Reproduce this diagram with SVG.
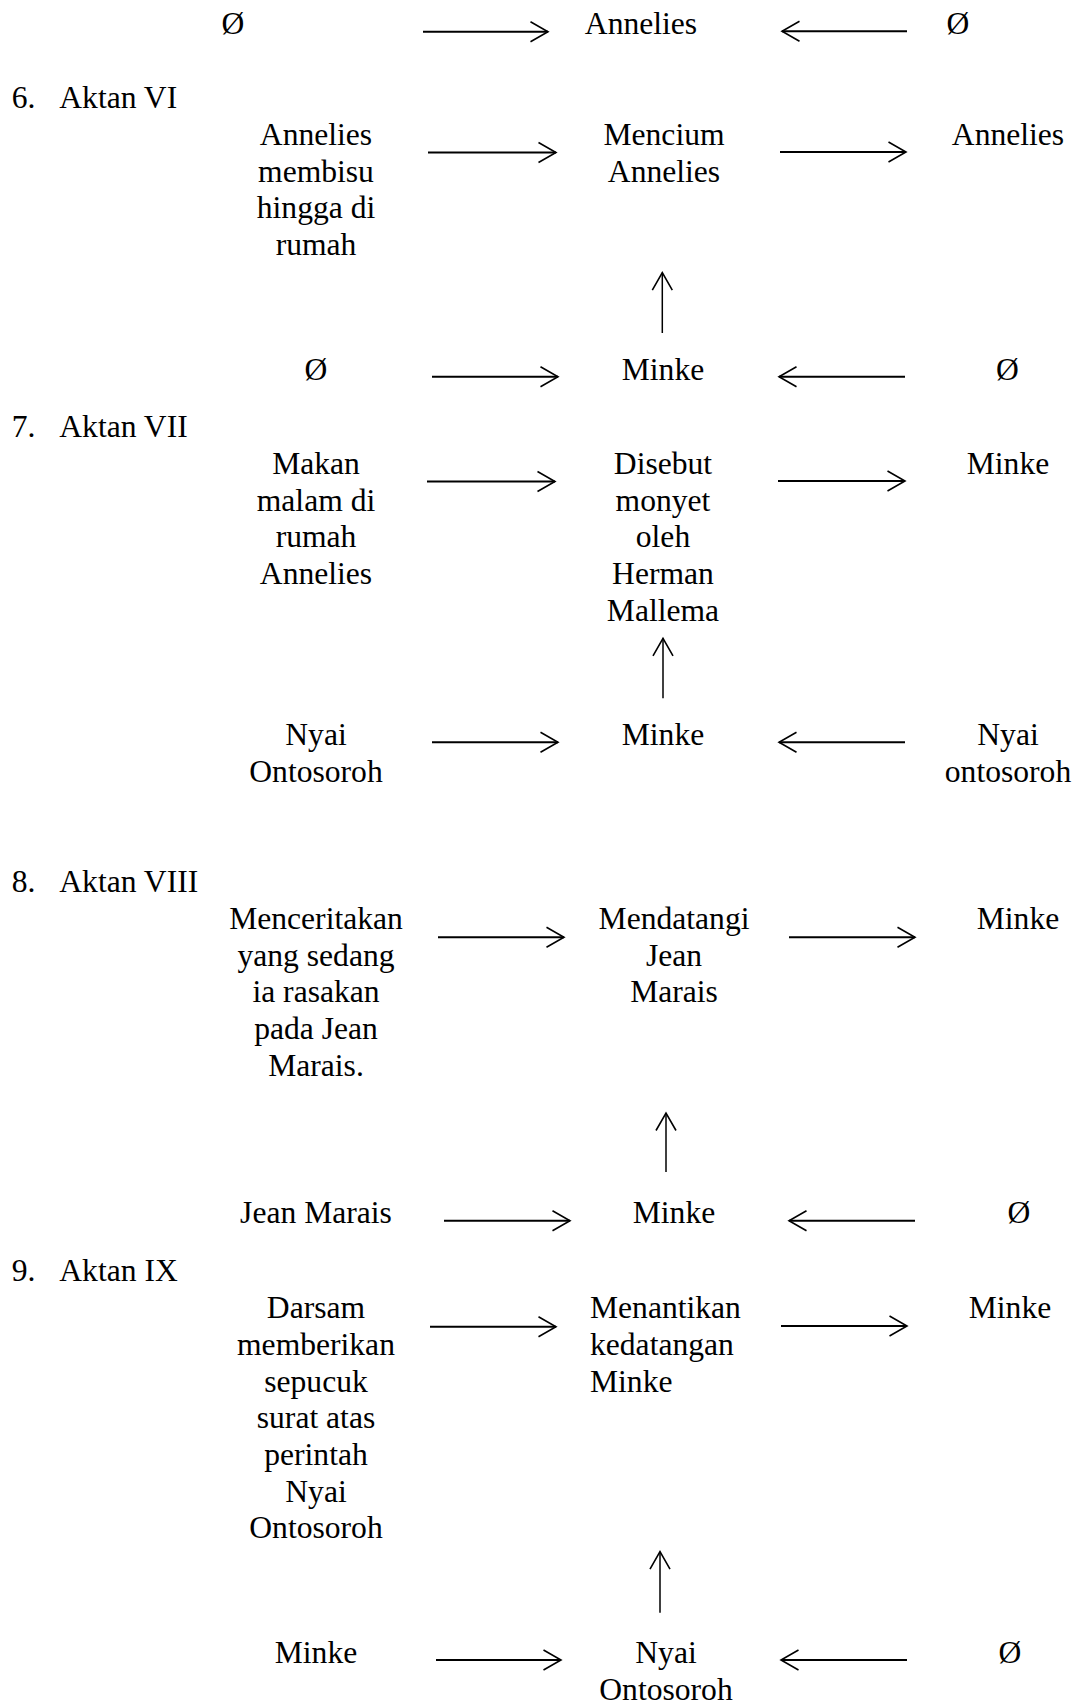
<svg xmlns="http://www.w3.org/2000/svg" width="1076" height="1704" viewBox="0 0 1076 1704">
<style>
text{font-family:"Liberation Serif","Times New Roman",serif;font-size:31.6px;fill:#000}
.c{text-anchor:middle}
.h{stroke:#000;stroke-width:2;fill:none}
.v{stroke:#000;stroke-width:1.5;fill:none}
</style>
<defs>
<marker id="ah" viewBox="-20 -12 22 24" refX="0" refY="0" markerWidth="22" markerHeight="24" markerUnits="userSpaceOnUse" orient="auto">
<path d="M-17.5,-10 L0,0 L-17.5,10" fill="none" stroke="#000" stroke-width="1.6"/>
</marker>
</defs>
<rect width="1076" height="1704" fill="#fff"/>

<!-- Row 0 (continued from previous) -->
<g id="r0-left"><text class="c" x="233" y="34.3">Ø</text></g>
<g id="r0-mid"><text class="c" x="641" y="34.3">Annelies</text></g>
<g id="r0-right"><text class="c" x="958" y="34.3">Ø</text></g>

<!-- Aktan VI -->
<g id="label6"><text x="11.7" y="108.3">6.</text><text x="59.3" y="108.3">Aktan VI</text></g>
<g id="a6-left"><text class="c" x="316" y="145">Annelies</text><text class="c" x="316" y="181.7">membisu</text><text class="c" x="316" y="218.3">hingga di</text><text class="c" x="316" y="255">rumah</text></g>
<g id="a6-mid"><text class="c" x="664" y="145">Mencium</text><text class="c" x="664" y="181.7">Annelies</text></g>
<g id="a6-right"><text class="c" x="1008" y="145">Annelies</text></g>
<g id="a6-bl"><text class="c" x="316" y="380">Ø</text></g>
<g id="a6-bm"><text class="c" x="663" y="380">Minke</text></g>
<g id="a6-br"><text class="c" x="1007.5" y="380">Ø</text></g>

<!-- Aktan VII -->
<g id="label7"><text x="11.7" y="436.7">7.</text><text x="59.3" y="436.7">Aktan VII</text></g>
<g id="a7-left"><text class="c" x="316" y="474">Makan</text><text class="c" x="316" y="510.7">malam di</text><text class="c" x="316" y="547.3">rumah</text><text class="c" x="316" y="584">Annelies</text></g>
<g id="a7-mid"><text class="c" x="663" y="474">Disebut</text><text class="c" x="663" y="510.7">monyet</text><text class="c" x="663" y="547.3">oleh</text><text class="c" x="663" y="584">Herman</text><text class="c" x="663" y="620.7">Mallema</text></g>
<g id="a7-right"><text class="c" x="1008" y="474">Minke</text></g>
<g id="a7-bl"><text class="c" x="316" y="745">Nyai</text><text class="c" x="316" y="781.5">Ontosoroh</text></g>
<g id="a7-bm"><text class="c" x="663" y="745">Minke</text></g>
<g id="a7-br"><text class="c" x="1008" y="745">Nyai</text><text class="c" x="1008" y="781.5">ontosoroh</text></g>

<!-- Aktan VIII -->
<g id="label8"><text x="11.7" y="892.3">8.</text><text x="59.3" y="892.3">Aktan VIII</text></g>
<g id="a8-left"><text class="c" x="316" y="929">Menceritakan</text><text class="c" x="316" y="965.7">yang sedang</text><text class="c" x="316" y="1002.3">ia rasakan</text><text class="c" x="316" y="1039">pada Jean</text><text class="c" x="316" y="1075.7">Marais.</text></g>
<g id="a8-mid"><text class="c" x="674" y="929">Mendatangi</text><text class="c" x="674" y="965.7">Jean</text><text class="c" x="674" y="1002.3">Marais</text></g>
<g id="a8-right"><text class="c" x="1018" y="929">Minke</text></g>
<g id="a8-bl"><text class="c" x="316" y="1223.3">Jean Marais</text></g>
<g id="a8-bm"><text class="c" x="674" y="1223.3">Minke</text></g>
<g id="a8-br"><text class="c" x="1019" y="1223.3">Ø</text></g>

<!-- Aktan IX -->
<g id="label9"><text x="11.7" y="1280.7">9.</text><text x="59.3" y="1280.7">Aktan IX</text></g>
<g id="a9-left"><text class="c" x="316" y="1318.3">Darsam</text><text class="c" x="316" y="1355">memberikan</text><text class="c" x="316" y="1391.7">sepucuk</text><text class="c" x="316" y="1428.3">surat atas</text><text class="c" x="316" y="1465">perintah</text><text class="c" x="316" y="1501.7">Nyai</text><text class="c" x="316" y="1538.3">Ontosoroh</text></g>
<g id="a9-mid"><text x="590" y="1318.3">Menantikan</text><text x="590" y="1355">kedatangan</text><text x="590" y="1391.7">Minke</text></g>
<g id="a9-right"><text class="c" x="1010" y="1318.3">Minke</text></g>
<g id="a9-bl"><text class="c" x="316" y="1663.3">Minke</text></g>
<g id="a9-bm"><text class="c" x="666" y="1663.3">Nyai</text><text class="c" x="666" y="1700">Ontosoroh</text></g>
<g id="a9-br"><text class="c" x="1010" y="1663.3">Ø</text></g>

<g id="connectors">
<line class="h" x1="423" y1="31.7" x2="548" y2="31.7" marker-end="url(#ah)"/>
<line class="h" x1="907" y1="31.3" x2="782" y2="31.3" marker-end="url(#ah)"/>

<line class="h" x1="428" y1="152.5" x2="556" y2="152.5" marker-end="url(#ah)"/>
<line class="h" x1="780" y1="152" x2="906" y2="152" marker-end="url(#ah)"/>
<line class="v" x1="662.3" y1="333" x2="662.3" y2="272.7" marker-end="url(#ah)"/>
<line class="h" x1="432" y1="376.7" x2="558" y2="376.7" marker-end="url(#ah)"/>
<line class="h" x1="905" y1="376.7" x2="779" y2="376.7" marker-end="url(#ah)"/>

<line class="h" x1="427" y1="481.5" x2="555" y2="481.5" marker-end="url(#ah)"/>
<line class="h" x1="778" y1="481" x2="905" y2="481" marker-end="url(#ah)"/>
<line class="v" x1="663" y1="698.3" x2="663" y2="638.3" marker-end="url(#ah)"/>
<line class="h" x1="432" y1="742.3" x2="558" y2="742.3" marker-end="url(#ah)"/>
<line class="h" x1="905" y1="742.3" x2="779" y2="742.3" marker-end="url(#ah)"/>

<line class="h" x1="438" y1="937.3" x2="564" y2="937.3" marker-end="url(#ah)"/>
<line class="h" x1="789" y1="937.3" x2="915" y2="937.3" marker-end="url(#ah)"/>
<line class="v" x1="666" y1="1172" x2="666" y2="1113" marker-end="url(#ah)"/>
<line class="h" x1="444" y1="1220.7" x2="570" y2="1220.7" marker-end="url(#ah)"/>
<line class="h" x1="915" y1="1220.7" x2="789" y2="1220.7" marker-end="url(#ah)"/>

<line class="h" x1="430" y1="1326.7" x2="556" y2="1326.7" marker-end="url(#ah)"/>
<line class="h" x1="781" y1="1326" x2="907" y2="1326" marker-end="url(#ah)"/>
<line class="v" x1="660" y1="1612.7" x2="660" y2="1551.7" marker-end="url(#ah)"/>
<line class="h" x1="436" y1="1660" x2="561" y2="1660" marker-end="url(#ah)"/>
<line class="h" x1="907" y1="1660" x2="781" y2="1660" marker-end="url(#ah)"/>
</g>
</svg>
